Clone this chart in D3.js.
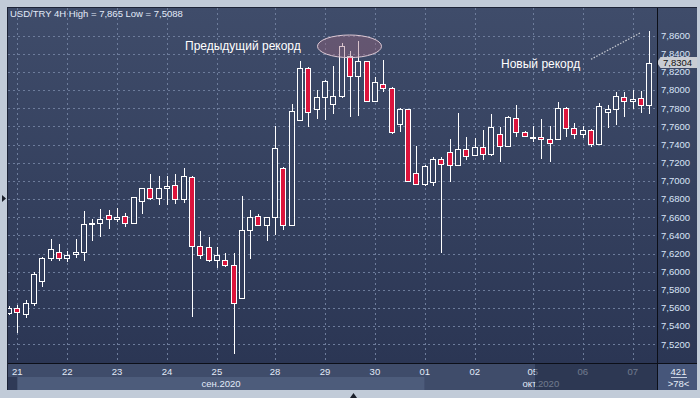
<!DOCTYPE html>
<html>
<head>
<meta charset="utf-8">
<script src="https://cdn.jsdelivr.net/npm/d3@7"></script>
<style>
body { margin: 0; background: #c1cbd8; }
svg { display: block; font-family: "Liberation Sans", Arial, sans-serif; }
</style>
</head>
<body>
<svg id="chart" width="700" height="398"></svg>
<script>
// USD/TRY 4H candles (78 bars)
const opens = [7.5540,7.5596,7.5529,7.5651,7.5897,7.6146,7.6220,7.6154,7.6191,7.6220,
  7.6521,7.6532,7.6628,7.6576,7.6609,7.6532,7.6775,7.6918,7.6808,7.6918,
  7.6951,7.6797,7.7039,7.6279,7.6268,7.6124,7.6124,7.6069,7.5706,7.6455,
  7.6609,7.6510,7.6598,7.7145,7.6510,7.7667,7.8240,7.7788,7.7920,7.7843,
  7.7939,7.8380,7.8152,7.8317,7.7876,7.8064,7.8020,7.7630,7.7788,7.7083,
  7.6962,7.6984,7.7237,7.7314,7.7171,7.7348,7.7281,7.7370,7.7292,7.7513,
  7.7381,7.7689,7.7542,7.7478,7.7480,7.7458,7.7458,7.7799,7.7579,7.7513,
  7.7564,7.7403,7.7763,7.7788,7.7920,7.7880,7.7910,7.7836];
const highs = [7.5621,7.5632,7.5687,7.5992,7.6165,7.6356,7.6304,7.6231,7.6356,7.6668,
  7.6576,7.6690,7.6679,7.6705,7.6650,7.6826,7.6925,7.7076,7.7054,7.7054,
  7.7076,7.7138,7.7054,7.6448,7.6378,7.6268,7.6202,7.6202,7.6833,7.6679,
  7.6635,7.6598,7.7605,7.7150,7.7847,7.8325,7.8251,7.8001,7.8111,7.8269,
  7.8516,7.8431,7.8541,7.8320,7.8141,7.8332,7.8034,7.7799,7.7792,7.7388,
  7.7175,7.7259,7.7259,7.7461,7.7752,7.7480,7.7476,7.7561,7.7737,7.7597,
  7.7715,7.7836,7.7545,7.7608,7.7682,7.7605,7.7865,7.7818,7.7634,7.7605,
  7.7568,7.7862,7.7836,7.7983,7.7983,7.8001,7.7994,7.8650];
const lows = [7.5522,7.5320,7.5493,7.5625,7.5834,7.6121,7.6121,7.6110,7.6146,7.6121,
  7.6341,7.6385,7.6473,7.6543,7.6495,7.6525,7.6635,7.6793,7.6734,7.6734,
  7.6749,7.6753,7.5500,7.6139,7.6102,7.6044,7.6047,7.5088,7.5700,7.6135,
  7.6499,7.6341,7.6404,7.6455,7.6505,7.7660,7.7597,7.7682,7.7671,7.7741,
  7.7910,7.7707,7.7718,7.7870,7.7870,7.7983,7.7520,7.7542,7.6984,7.6958,
  7.6947,7.6947,7.6202,7.6991,7.7168,7.7234,7.7278,7.7234,7.7278,7.7204,
  7.7378,7.7487,7.7491,7.7425,7.7241,7.7204,7.7455,7.7487,7.7458,7.7469,
  7.7370,7.7400,7.7586,7.7616,7.7707,7.7792,7.7744,7.7741];
const closes = [7.5603,7.5551,7.5651,7.5974,7.6146,7.6246,7.6146,7.6180,7.6220,7.6521,
  7.6532,7.6576,7.6576,7.6598,7.6536,7.6819,7.6918,7.6808,7.6918,7.6940,
  7.6797,7.7050,7.6279,7.6183,7.6124,7.6183,7.6069,7.5651,7.6455,7.6598,
  7.6510,7.6598,7.7359,7.6510,7.7774,7.8240,7.7755,7.7920,7.8097,7.7939,
  7.8490,7.8152,7.8317,7.7876,7.8086,7.8020,7.7542,7.7788,7.6999,7.6962,
  7.7160,7.7241,7.7182,7.7175,7.7348,7.7274,7.7370,7.7292,7.7590,7.7381,
  7.7704,7.7542,7.7494,7.7480,7.7458,7.7414,7.7799,7.7579,7.7513,7.7564,
  7.7406,7.7825,7.7788,7.7935,7.7880,7.7898,7.7836,7.8304];

// first bar of each trading day
const dayIdx = [1, 7, 13, 19, 25, 32, 38, 44, 50, 56, 63, 69, 75];
const dayLabels = ["21","22","23","24","25","28","29","30","01","02","05","06","07"];
const monthLabels = ["сен.2020", "окт.2020"];
const yTicks = [7.52,7.54,7.56,7.58,7.60,7.62,7.64,7.66,7.68,7.70,7.72,7.74,7.76,7.78,7.80,7.82,7.84,7.86];
const lastPrice = 7.8304;

const svg = d3.select("#chart");
const L = 8, T = 8, R = 657, B = 363, PR = 697, PB = 390;

const x = d3.scaleLinear().domain([0, 77]).range([9, 649.3]);
const y = d3.scaleLinear().domain([7.52, 7.86]).range([344.3, 35.7]);
const px = v => Math.round(v) + 0.5;
const fmt = v => d3.format(".4f")(v).replace(".", ",");

const defs = svg.append("defs");
// gradient in page space so hollow bodies match the plot behind them
const grad = defs.append("linearGradient").attr("id", "bg").attr("gradientUnits", "userSpaceOnUse")
  .attr("x1", 0).attr("y1", T).attr("x2", 0).attr("y2", B);
grad.append("stop").attr("offset", "0%").attr("stop-color", "#3f4c6a");
grad.append("stop").attr("offset", "100%").attr("stop-color", "#2b3654");
defs.append("clipPath").attr("id", "clip").append("rect")
  .attr("x", L).attr("y", T).attr("width", R - L).attr("height", B - T);

// frame
svg.append("rect").attr("width", 700).attr("height", 398).attr("fill", "#c1cbd8");
svg.append("rect").attr("x", 7).attr("y", 7).attr("width", PR - 7).attr("height", PB - 7).attr("fill", "#1c2336");
svg.append("rect").attr("x", L).attr("y", T).attr("width", PR - L).attr("height", B - T).attr("fill", "url(#bg)");
svg.append("path").attr("d", "M2,195L6,198.5L2,202Z").attr("fill", "#1a1f2a");
svg.append("path").attr("d", "M350,398L353.5,393L357,398Z").attr("fill", "#1a1f2a");

// grid
const grid = svg.append("g").attr("stroke", "#6d7c9b").attr("stroke-dasharray", "2,3").attr("stroke-width", 1);
grid.selectAll(".h").data(yTicks).join("line")
  .attr("x1", L).attr("x2", R).attr("y1", d => px(y(d))).attr("y2", d => px(y(d)));
grid.selectAll(".v").data(dayIdx).join("line")
  .attr("y1", T).attr("y2", B).attr("x1", d => px(x(d))).attr("x2", d => px(x(d)));

// candles
const bars = d3.range(opens.length).map(i => ({ i, o: opens[i], h: highs[i], l: lows[i], c: closes[i] }));
const cg = svg.append("g").attr("clip-path", "url(#clip)");
cg.selectAll("line.wick").data(bars).join("line").attr("class", "wick")
  .attr("x1", d => px(x(d.i))).attr("x2", d => px(x(d.i)))
  .attr("y1", d => Math.round(y(d.h))).attr("y2", d => Math.round(y(d.l)))
  .attr("stroke", "#ffffff").attr("stroke-width", 1);
cg.selectAll("rect.body").data(bars).join("rect").attr("class", "body")
  .attr("x", d => Math.round(x(d.i)) - 2.5)
  .attr("y", d => px(y(Math.max(d.o, d.c))))
  .attr("width", 5)
  .attr("height", d => Math.max(1, Math.round(y(Math.min(d.o, d.c))) - Math.round(y(Math.max(d.o, d.c)))))
  .attr("fill", d => d.c < d.o ? "#dc143c" : "url(#bg)")
  .attr("stroke", "#ffffff").attr("stroke-width", 1);

// annotations
svg.append("text").attr("x", 10).attr("y", 17).attr("font-size", 9.5).attr("fill", "#e2eaf8")
  .text("USD/TRY 4H High = 7,865 Low = 7,5088");
svg.append("text").attr("x", 185).attr("y", 49.5).attr("font-size", 12).attr("fill", "#ffffff")
  .text("Предыдущий рекорд");
svg.append("ellipse").attr("cx", 349.5).attr("cy", 46.3).attr("rx", 32).attr("ry", 11.3)
  .attr("fill", "rgba(160,106,128,0.4)").attr("stroke", "#dcc8d4").attr("stroke-width", 1);
svg.append("text").attr("x", 501).attr("y", 67.5).attr("font-size", 12).attr("fill", "#ffffff")
  .text("Новый рекорд");
svg.append("line").attr("x1", 591).attr("y1", 59.3).attr("x2", 641).attr("y2", 32.5)
  .attr("stroke", "#c4c8d0").attr("stroke-width", 1.3).attr("stroke-dasharray", "1.5,1.5");

// y axis labels
svg.append("g").selectAll("text").data(yTicks).join("text")
  .attr("x", 661).attr("y", d => y(d)).attr("dy", "0.35em")
  .attr("font-size", 9.5).attr("fill", "#d8e4f6").text(fmt);

// current price tag (sits over the neighbouring labels, as in the terminal)
const yp = y(lastPrice);
svg.append("path")
  .attr("d", `M657,${yp}L660.5,${yp - 5.5}L697,${yp - 5.5}L697,${yp + 5.5}L660.5,${yp + 5.5}Z`)
  .attr("fill", "#c9ccd3");
svg.append("text").attr("x", 663).attr("y", yp).attr("dy", "0.35em")
  .attr("font-size", 9.5).attr("fill", "#111111").text(fmt(lastPrice));

// x axis strips
svg.append("rect").attr("x", L).attr("y", B + 1).attr("width", R - L).attr("height", 13).attr("fill", "#3f4c6a");
svg.append("rect").attr("x", L).attr("y", B + 14).attr("width", R - L).attr("height", PB - B - 14).attr("fill", "#2f3a57");
const sepX = x(dayIdx[0]), octX = x(dayIdx[8]);
svg.append("rect").attr("x", sepX).attr("y", B + 14).attr("width", octX - sepX).attr("height", PB - B - 14).attr("fill", "#4d5c7b");
svg.append("rect").attr("x", octX).attr("y", B + 14).attr("width", R - octX).attr("height", PB - B - 14).attr("fill", "#3f4c6a");

svg.append("g").selectAll("text").data(dayIdx).join("text")
  .attr("x", d => x(d)).attr("y", B + 12).attr("text-anchor", "middle")
  .attr("font-size", 9.5).attr("fill", "#e2eaf8").text((d, i) => dayLabels[i]);
svg.append("g").selectAll("text").data([[sepX, octX], [octX, R]]).join("text")
  .attr("x", d => (d[0] + d[1]) / 2).attr("y", B + 24).attr("text-anchor", "middle")
  .attr("font-size", 9.5).attr("fill", "#e2eaf8").text((d, i) => monthLabels[i]);

// scroll overlay on last days
svg.append("rect").attr("x", 535).attr("y", B + 1).attr("width", R - 535).attr("height", PB - B - 1)
  .attr("fill", "#222c44").attr("opacity", 0.6);

// corner box
svg.append("rect").attr("x", R + 1).attr("y", B + 1).attr("width", PR - R - 1).attr("height", PB - B - 1).attr("fill", "#46567a");
svg.append("text").attr("x", 678.5).attr("y", 375).attr("text-anchor", "middle")
  .attr("font-size", 9.5).attr("fill", "#e8eef8").text("421");
svg.append("line").attr("x1", 671).attr("x2", 687).attr("y1", 377.5).attr("y2", 377.5).attr("stroke", "#c8d0e0");
svg.append("text").attr("x", 678.5).attr("y", 387).attr("text-anchor", "middle")
  .attr("font-size", 9.5).attr("fill", "#e8eef8").text(">78<");

// separators
svg.append("line").attr("x1", L).attr("x2", PR).attr("y1", B + 0.5).attr("y2", B + 0.5).attr("stroke", "#0c0f18");
svg.append("line").attr("x1", R + 0.5).attr("x2", R + 0.5).attr("y1", T).attr("y2", PB).attr("stroke", "#0c0f18");
</script>
</body>
</html>
